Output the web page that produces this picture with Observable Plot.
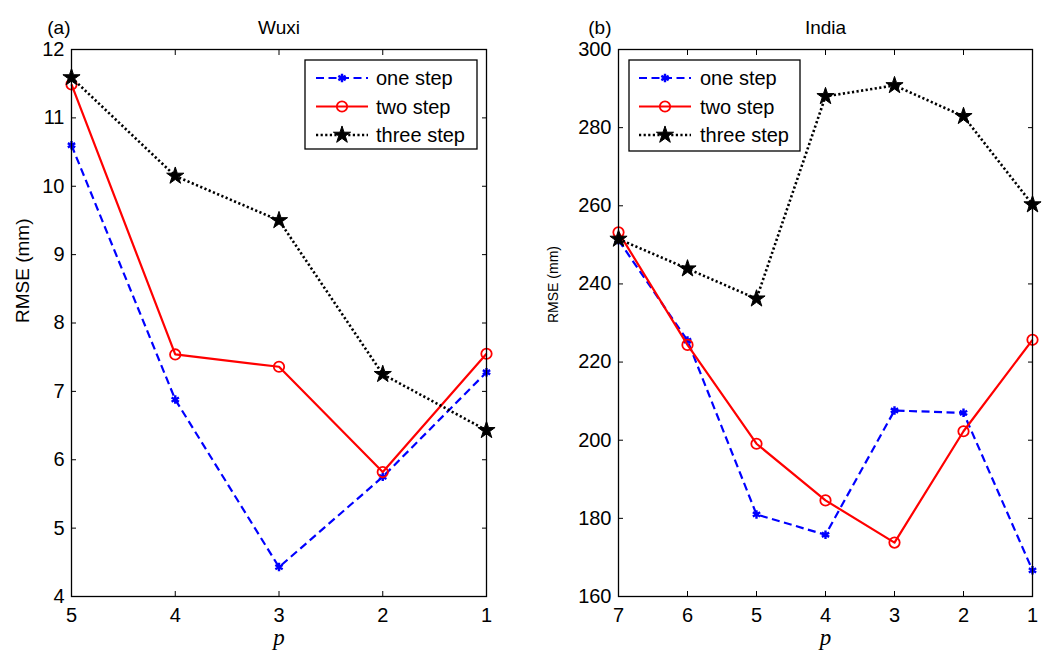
<!DOCTYPE html>
<html><head><meta charset="utf-8">
<script src="https://cdn.jsdelivr.net/npm/d3@7"></script>
<script src="https://cdn.jsdelivr.net/npm/@observablehq/plot@0.6"></script>
<style>
body{margin:0;background:#fff;}
#wrap{position:relative;width:1045px;height:652px;font-family:"Liberation Sans",Arial,sans-serif;background:#fff;}
.panel{position:absolute;top:0;}
.legend{position:absolute;top:0;left:0;}
</style>
</head><body><div id="wrap"></div>
<script>
// ---- data ----
const seriesNames = ["one step", "two step", "three step"];

const wuxiP = [5, 4, 3, 2, 1];
const wuxiOne = [10.6, 6.88, 4.43, 5.75, 7.28];
const wuxiTwo = [11.49, 7.54, 7.36, 5.82, 7.55];
const wuxiThree = [11.59, 10.15, 9.5, 7.25, 6.43];
const wuxiYTicks = [4, 5, 6, 7, 8, 9, 10, 11, 12];

const indiaP = [7, 6, 5, 4, 3, 2, 1];
const indiaOne = [251.2, 225.5, 181, 175.8, 207.6, 207, 166.7];
const indiaTwo = [253.2, 224.4, 199.1, 184.6, 173.8, 202.3, 225.7];
const indiaThree = [251.5, 243.9, 236.2, 288, 290.8, 282.9, 260.3];
const indiaYTicks = [160, 180, 200, 220, 240, 260, 280, 300];

// ---- styles ----
const styles = [
  {color: "#0000ff", dash: "8,4.5", width: 2.2, symbol: "asterisk", fill: "none", r: 4, sw: 2.4},
  {color: "#ff0000", dash: null, width: 2.2, symbol: "circle", fill: "none", r: 5.2, sw: 1.8},
  {color: "#000000", dash: "2.2,2.4", width: 2.6, symbol: "star", fill: "#000000", r: 5.4, sw: 1}
];

const FONT = '"Liberation Sans", Arial, sans-serif';
const fmt = d => String(d);

function panel({P, series, yDomain, yTicks, width, marginLeft, marginRight, title, tag, tagDx, ylabel, ylabelSize, ylabelDx}) {
  const marks = [];
  series.forEach((vals, k) => {
    const st = styles[k];
    const data = P.map((p, i) => ({p, v: vals[i], s: seriesNames[k]}));
    marks.push(Plot.line(data, {x: "p", y: "v", stroke: st.color, strokeWidth: st.width,
      strokeDasharray: st.dash || undefined, strokeLinecap: "butt"}));
    marks.push(Plot.dot(data, {x: "p", y: "v", symbol: st.symbol, r: st.r, stroke: st.color,
      fill: st.fill, strokeWidth: st.sw}));
  });
  const xTicks = P.slice().sort((a, b) => a - b);
  return Plot.plot({
    width, height: 652,
    marginLeft, marginRight, marginTop: 49, marginBottom: 56,
    x: {domain: [d3.max(P), d3.min(P)]},
    y: {domain: yDomain},
    style: {fontFamily: FONT, fontSize: "20px", color: "black", background: "white", overflow: "visible"},
    marks: [
      Plot.axisX({anchor: "bottom", ticks: xTicks, tickFormat: fmt, tickSize: 5, dy: -5, tickPadding: 11, label: null, fontSize: 20}),
      Plot.axisX({anchor: "top", ticks: xTicks, tickSize: 5, dy: 5, tickFormat: () => "", label: null}),
      Plot.axisY({anchor: "left", ticks: yTicks, tickFormat: fmt, tickSize: 5, dx: 5, tickPadding: 7, label: null, fontSize: 20}),
      Plot.axisY({anchor: "right", ticks: yTicks, tickSize: 5, dx: -5, tickFormat: () => "", label: null}),
      ...marks,
      Plot.frame({stroke: "black", strokeWidth: 1.3}),
      Plot.text([title], {text: d => d, frameAnchor: "top", lineAnchor: "middle", dy: -22, fontSize: 19}),
      Plot.text([tag], {text: d => d, frameAnchor: "top-left", lineAnchor: "middle", textAnchor: "end", dx: tagDx, dy: -22, fontSize: 19}),
      Plot.text([ylabel], {text: d => d, frameAnchor: "left", lineAnchor: "middle", rotate: -90, dx: ylabelDx, fontSize: ylabelSize}),
      Plot.text(["p"], {text: d => d, frameAnchor: "bottom", lineAnchor: "middle", dy: 41, fontSize: 23, fontStyle: "italic",
        fontFamily: '"Liberation Serif", "Times New Roman", serif'})
    ]
  });
}

const wrap = document.getElementById("wrap");

const left = panel({P: wuxiP, series: [wuxiOne, wuxiTwo, wuxiThree], yDomain: [4, 12], yTicks: wuxiYTicks,
  width: 522, marginLeft: 71, marginRight: 36, title: "Wuxi", tag: "(a)", tagDx: -1,
  ylabel: "RMSE (mm)", ylabelSize: 19, ylabelDx: -49});
left.classList.add("panel"); left.style.left = "0px";
wrap.appendChild(left);

const right = panel({P: indiaP, series: [indiaOne, indiaTwo, indiaThree], yDomain: [160, 300], yTicks: indiaYTicks,
  width: 523, marginLeft: 96, marginRight: 13, title: "India", tag: "(b)", tagDx: -7,
  ylabel: "RMSE (mm)", ylabelSize: 14, ylabelDx: -65});
right.classList.add("panel"); right.style.left = "522px";
wrap.appendChild(right);

// ---- legends (overlay) ----
const lsvg = d3.select(wrap).append("svg").attr("class", "legend")
  .attr("width", 1045).attr("height", 652).style("pointer-events", "none");

function legend(x0, y0, w, h, lineX0, lineX1, textX) {
  const g = lsvg.append("g");
  g.append("rect").attr("x", x0).attr("y", y0).attr("width", w).attr("height", h)
    .attr("fill", "white").attr("stroke", "black").attr("stroke-width", 1.3);
  const symMap = {asterisk: d3.symbolAsterisk, circle: d3.symbolCircle, star: d3.symbolStar};
  seriesNames.forEach((name, k) => {
    const st = styles[k];
    const y = y0 + 18 + k * 28.5;
    g.append("line").attr("x1", lineX0).attr("x2", lineX1).attr("y1", y).attr("y2", y)
      .attr("stroke", st.color).attr("stroke-width", st.width)
      .attr("stroke-dasharray", st.dash);
    g.append("path").attr("transform", `translate(${(lineX0 + lineX1) / 2},${y})`)
      .attr("d", d3.symbol(symMap[st.symbol], Math.PI * st.r * st.r)())
      .attr("fill", st.fill).attr("stroke", st.color).attr("stroke-width", st.sw);
    g.append("text").attr("x", textX).attr("y", y).attr("dy", "0.35em")
      .attr("font-family", FONT).attr("font-size", 20).text(name);
  });
}
legend(305, 60, 172, 89, 316, 368, 376);
legend(629, 60, 171, 91, 639, 691, 700);
</script>
</body></html>
